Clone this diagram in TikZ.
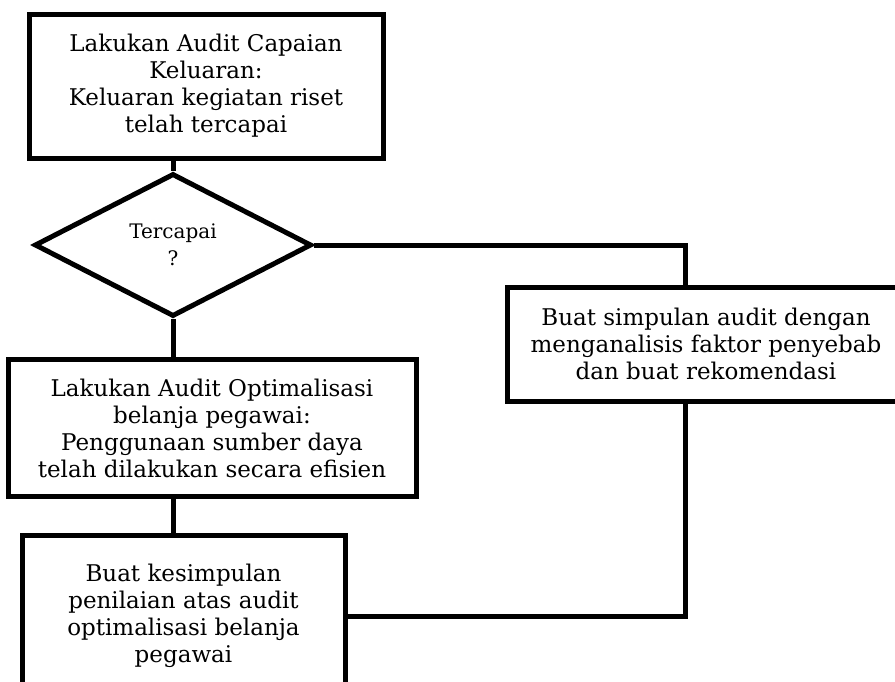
\documentclass[tikz,border=0pt]{standalone}
\usepackage{fontspec}
\setmainfont{DejaVu Serif}
\usetikzlibrary{shapes.geometric}

\begin{document}
\begin{tikzpicture}[x=1pt, y=-1pt, line width=5pt,
  box/.style={draw, rectangle, align=center, inner sep=0pt, font=\fontsize{23}{27}\selectfont},
  dec/.style={draw, diamond, aspect=2, align=center, inner sep=0pt, minimum width=277pt, minimum height=143pt, font=\fontsize{20}{27}\selectfont}]
  \path[use as bounding box, clip] (0,0) rectangle (895,681);
  \node[box, minimum width=354pt, minimum height=144pt](cek) at (206,86){Lakukan Audit Capaian\\ Keluaran:\\ Keluaran kegiatan riset\\ telah tercapai};
  \node[dec](tc) at (173,245){Tercapai\\ ?};
  \node[box, minimum width=398pt, minimum height=114pt](simp) at (706,344){Buat simpulan audit dengan\\ menganalisis faktor penyebab\\ dan buat rekomendasi};
  \node[box, minimum width=408pt, minimum height=137pt](opt) at (212,428){Lakukan Audit Optimalisasi\\ belanja pegawai:\\ Penggunaan sumber daya\\ telah dilakukan secara efisien};
  \node[box, minimum width=323pt, minimum height=162pt](kes) at (183.5,616){Buat kesimpulan\\ penilaian atas audit\\ optimalisasi belanja\\ pegawai};
  \draw (cek.south -| tc.north) -- (tc.north);
  \draw (tc.south) -- (tc.south |- opt.north);
  \draw (tc.east) -| ([xshift=-21pt]simp.north);
  \draw (opt.south -| tc.south) -- (kes.north -| tc.south);
  \draw ([xshift=-21pt]simp.south) |- (kes.east);
\end{tikzpicture}
\end{document}
